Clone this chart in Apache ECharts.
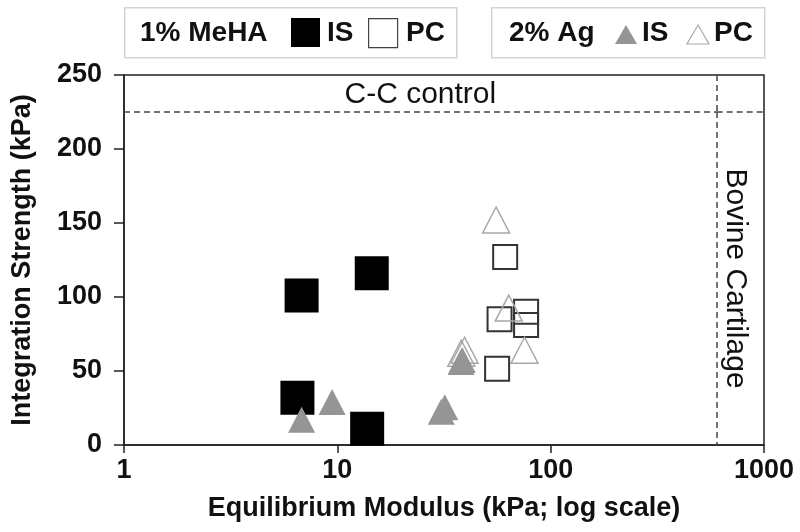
<!DOCTYPE html>
<html>
<head>
<meta charset="utf-8">
<script src="https://cdn.jsdelivr.net/npm/echarts@6/dist/echarts.min.js"></script>
<style>
html,body{margin:0;padding:0;background:#fff;}
#chart{width:800px;height:532px;}
</style>
</head>
<body>
<div id="chart"></div>
<script>
// Data
const mehaIS_x = [6.8, 14.5, 6.5, 13.8];
const mehaIS_y = [101, 116, 32, 11];
const mehaPC_x = [61.2, 57.6, 76.7, 76.7, 56.1];
const mehaPC_y = [127, 85, 90, 81, 51.5];
const agIS_x = [6.8, 9.45, 30.7, 31.9, 38, 38.5];
const agIS_y = [17, 29, 22.5, 25.5, 56, 57.5];
const agPC_x = [55.5, 63.6, 75.4, 39.5, 38.1];
const agPC_y = [152, 92.5, 64, 64, 62];
const ccControl = 225;
const bovineModulus = 600;
const xMin = 1, xMax = 1000;
const yMin = 0, yMax = 250, yStep = 50;

const FONT = "'Liberation Sans', Arial, sans-serif";
const zip = (xs, ys) => xs.map((x, i) => [x, ys[i]]);

const chart = echarts.init(document.getElementById('chart'), null, {renderer: 'canvas'});

const legendText = (x, y, t) => ({
  type: 'text', x: x, y: y, z: 10,
  style: {text: t, font: 'bold 28px ' + FONT, fill: '#111', align: 'left', verticalAlign: 'middle'}
});

const option = {
  backgroundColor: '#fff',
  animation: false,
  grid: {left: 124, right: 36, top: 75, bottom: 87, show: true, borderColor: '#222', borderWidth: 1.5},
  xAxis: {
    type: 'log', logBase: 10, min: xMin, max: xMax,
    name: 'Equilibrium Modulus (kPa; log scale)',
    nameLocation: 'middle', nameGap: 50,
    nameTextStyle: {fontFamily: FONT, fontWeight: 'bold', fontSize: 27, color: '#111'},
    axisLine: {show: true, lineStyle: {color: '#222', width: 1.5}},
    axisTick: {show: true, inside: false, length: 8, lineStyle: {color: '#222', width: 1.5}},
    minorTick: {show: false},
    splitLine: {show: false},
    axisLabel: {fontFamily: FONT, fontWeight: 'bold', fontSize: 27, color: '#111', margin: 12,
      formatter: v => String(Math.round(v))}
  },
  yAxis: {
    type: 'value', min: yMin, max: yMax, interval: yStep,
    name: 'Integration Strength (kPa)',
    nameLocation: 'middle', nameGap: 88,
    nameTextStyle: {fontFamily: FONT, fontWeight: 'bold', fontSize: 27, color: '#111'},
    axisLine: {show: true, lineStyle: {color: '#222', width: 1.5}},
    axisTick: {show: true, inside: false, length: 10, lineStyle: {color: '#222', width: 1.5}},
    splitLine: {show: false},
    axisLabel: {fontFamily: FONT, fontWeight: 'bold', fontSize: 27, color: '#111', margin: 22}
  },
  series: [
    {
      name: 'MeHA IS', type: 'scatter', symbol: 'rect', symbolSize: 34, clip: false,
      itemStyle: {color: '#000', opacity: 1},
      data: zip(mehaIS_x, mehaIS_y),
      z: 2,
      markLine: {
        silent: true, symbol: 'none', animation: false,
        lineStyle: {type: [6, 4], color: '#444', width: 1.5},
        label: {fontFamily: FONT, fontSize: 30, color: '#111'},
        data: [
          [{coord: [xMin, ccControl], label: {show: true, formatter: 'C-C control', position: 'insideMiddleTop', distance: 2}},
           {coord: [bovineModulus, ccControl]}],
          [{coord: [bovineModulus, ccControl], label: {show: false}}, {coord: [xMax, ccControl]}],
          [{coord: [bovineModulus, ccControl], label: {show: true, formatter: 'Bovine Cartilage', position: 'insideMiddleTop', distance: 4}},
           {coord: [bovineModulus, yMin]}],
          [{coord: [bovineModulus, yMax], label: {show: false}}, {coord: [bovineModulus, ccControl]}]
        ]
      }
    },
    {
      name: 'MeHA PC', type: 'scatter', symbol: 'rect', symbolSize: 24, clip: false,
      itemStyle: {color: 'rgba(255,255,255,0)', borderColor: '#333', borderWidth: 2, opacity: 1},
      data: zip(mehaPC_x, mehaPC_y), z: 3
    },
    {
      name: 'Ag PC', type: 'scatter', symbol: 'triangle', symbolSize: [27, 26], clip: false,
      itemStyle: {color: 'rgba(255,255,255,0)', borderColor: '#a8a8a8', borderWidth: 1.5, opacity: 1},
      data: zip(agPC_x, agPC_y), z: 4
    },
    {
      name: 'Ag IS', type: 'scatter', symbol: 'triangle', symbolSize: [27, 26], clip: false,
      itemStyle: {color: '#959595', opacity: 1},
      data: zip(agIS_x, agIS_y), z: 5
    }
  ],
  graphic: [
    {type: 'rect', left: 124, top: 7, shape: {width: 332, height: 50}, style: {fill: '#fff', stroke: '#d4d4d4', lineWidth: 1.5}},
    {type: 'rect', left: 491, top: 7, shape: {width: 273, height: 50}, style: {fill: '#fff', stroke: '#d4d4d4', lineWidth: 1.5}},
    legendText(140, 33, '1% MeHA'),
    {type: 'rect', left: 291, top: 18, z: 10, shape: {width: 29, height: 29}, style: {fill: '#000'}},
    legendText(327, 33, 'IS'),
    {type: 'rect', left: 368, top: 18, z: 10, shape: {width: 29, height: 29}, style: {fill: '#fff', stroke: '#444', lineWidth: 1.2}},
    legendText(406, 33, 'PC'),
    legendText(509, 33, '2% Ag'),
    {type: 'polygon', z: 10, shape: {points: [[626, 25], [615, 44], [637, 44]]}, style: {fill: '#959595'}},
    legendText(642, 33, 'IS'),
    {type: 'polygon', z: 10, shape: {points: [[698, 25], [687, 44], [709, 44]]}, style: {fill: '#fff', stroke: '#aaa', lineWidth: 1.2}},
    legendText(714, 33, 'PC')
  ]
};
chart.setOption(option);
</script>
</body>
</html>
